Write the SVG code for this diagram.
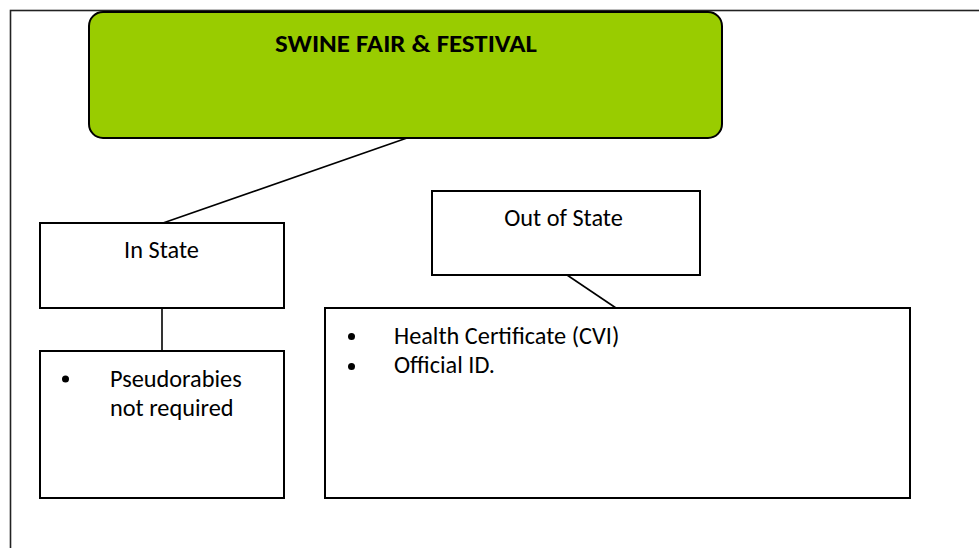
<svg xmlns="http://www.w3.org/2000/svg" width="979" height="548" viewBox="0 0 979 548">
  <style>
    .box { fill: #ffffff; stroke: #000000; stroke-width: 2; }
    .conn { stroke: #000000; stroke-width: 1.6; fill: none; }
    .t { font-family: Carlito, Calibri, Lato, "Liberation Sans", sans-serif; font-size: 24.3px; fill: #000000; }
    .tb { font-family: Carlito, Calibri, Lato, "Liberation Sans", sans-serif; font-size: 25px; font-weight: bold; fill: #000000; }
    .bullet { fill: #000000; }
  </style>
  <rect width="979" height="548" fill="#ffffff"/>
  <g id="frame">
    <rect x="10.5" y="10.5" width="1000" height="600" fill="none" stroke="#222222" stroke-width="1.6"/>
  </g>
  <g id="connectors">
    <line class="conn" x1="407" y1="138" x2="163" y2="223"/>
    <line class="conn" x1="162" y1="308" x2="162" y2="351"/>
    <line class="conn" x1="567" y1="275" x2="616" y2="308"/>
  </g>
  <g id="swine-fair">
    <rect x="89" y="12" width="633" height="126" rx="14" ry="14" fill="#99cc00" stroke="#000000" stroke-width="2"/>
    <text class="tb" x="275" y="52" textLength="262" lengthAdjust="spacingAndGlyphs">SWINE FAIR &amp; FESTIVAL</text>
  </g>
  <g id="in-state">
    <rect class="box" x="40" y="223" width="244" height="85"/>
    <text class="t" x="161.5" y="258" text-anchor="middle">In State</text>
  </g>
  <g id="pseudorabies">
    <rect class="box" x="40" y="351" width="244" height="147"/>
    <circle class="bullet" cx="65.5" cy="379" r="3.5"/>
    <text class="t" x="110" y="387">Pseudorabies</text>
    <text class="t" x="110" y="416">not required</text>
  </g>
  <g id="out-of-state">
    <rect class="box" x="432" y="191" width="268" height="84"/>
    <text class="t" x="563.5" y="226" text-anchor="middle">Out of State</text>
  </g>
  <g id="requirements">
    <rect class="box" x="325" y="308" width="585" height="190"/>
    <circle class="bullet" cx="351.5" cy="336.5" r="3.5"/>
    <circle class="bullet" cx="351.5" cy="366.5" r="3.5"/>
    <text class="t" x="394" y="344">Health Certificate (CVI)</text>
    <text class="t" x="394" y="373">Official ID.</text>
  </g>
</svg>
